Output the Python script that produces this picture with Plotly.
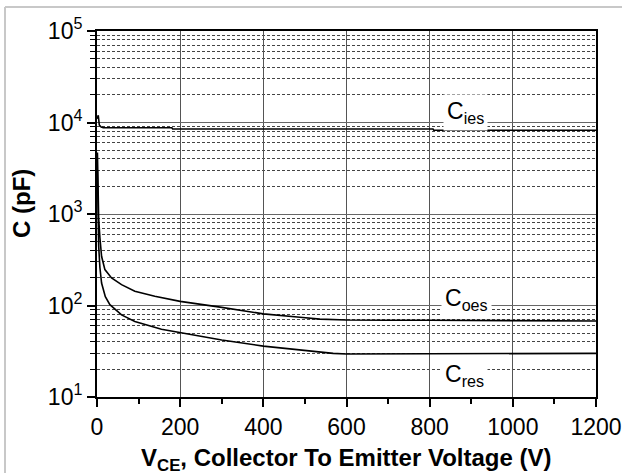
import plotly.graph_objects as go
import math

# ---- data ----
cies_v = [0.5, 3, 5.5, 10, 15, 30, 60, 100, 180, 182, 400, 600, 808, 810, 1000, 1200]
cies_c = [11000, 12000, 9400, 8900, 8800, 8780, 8770, 8770, 8770, 8500, 8500, 8500, 8500, 8230, 8230, 8230]

coes_v = [1, 2, 4, 7, 11, 19, 35, 59, 91, 139, 200, 296, 400, 488, 536, 600, 640, 700, 800, 960, 1000, 1100, 1200]
coes_c = [4700, 1800, 900, 550, 345, 247, 200, 169, 143, 126, 111, 96, 81, 74.5, 71, 69.5, 69, 69, 69, 68.5, 67.7, 67.7, 67.7]

cres_v = [1, 2, 4, 7, 11, 20, 31, 59, 91, 155, 200, 300, 400, 488, 568, 600, 700, 800, 900, 1000, 1100, 1200]
cres_c = [3000, 1000, 450, 260, 176, 125, 102, 79, 67, 55, 50.5, 42, 36, 32.7, 30, 29.5, 29.5, 29.5, 29.5, 29.5, 29.5, 30]

x_ticks = [0, 200, 400, 600, 800, 1000, 1200]
y_exps = [1, 2, 3, 4, 5]
y_tickvals = [10 ** e for e in y_exps]
y_ticktext = ["10<sup>%d</sup>" % e for e in y_exps]
y_minor = [m * 10 ** e for e in range(1, 5) for m in range(2, 10)]

labels = ["C<sub>ies</sub>", "C<sub>oes</sub>", "C<sub>res</sub>"]
label_v = [885, 888, 883]
label_c = [13000, 115, 17]

FONT = "Arial, Liberation Sans, sans-serif"
W, H = 623, 474
L, R, T, B = 97, 27, 31, 77
PW, PH = W - L - R, H - T - B


def px(xp):
    return (xp - L) / PW


def py(yp):
    return (H - B - yp) / PH


fig = go.Figure()
for v, c in [(cies_v, cies_c), (coes_v, coes_c), (cres_v, cres_c)]:
    fig.add_trace(go.Scatter(x=v, y=c, mode="lines",
                             line=dict(color="black", width=1.6),
                             showlegend=False, hoverinfo="skip"))

for t, v, c in zip(labels, label_v, label_c):
    fig.add_annotation(x=v, y=math.log10(c), xref="x", yref="y", text=t,
                       showarrow=False, bgcolor="white", borderpad=3,
                       xanchor="center", yanchor="middle",
                       font=dict(family=FONT, size=23, color="black"))

fig.add_annotation(x=px(21), y=py(204), xref="paper", yref="paper",
                   text="<b>C (pF)</b>", textangle=-90, showarrow=False,
                   xanchor="center", yanchor="middle",
                   font=dict(family=FONT, size=24, color="black"))
fig.add_annotation(x=px(346), y=py(459), xref="paper", yref="paper",
                   text="<b>V<sub>CE</sub>, Collector To Emitter Voltage (V)</b>",
                   showarrow=False, xanchor="center", yanchor="middle",
                   font=dict(family=FONT, size=24, color="black"))

# light page border (left and top)
fig.add_shape(type="line", xref="paper", yref="paper",
              x0=px(5), x1=px(5), y0=py(7), y1=py(H - 1),
              line=dict(color="#c8c8c8", width=2))
fig.add_shape(type="line", xref="paper", yref="paper",
              x0=px(5), x1=px(W - 1), y0=py(7), y1=py(7),
              line=dict(color="#c8c8c8", width=2))

fig.update_xaxes(range=[0, 1200], tickvals=x_ticks, ticks="outside", ticklen=8,
                 tickwidth=1.5, tickcolor="black", showgrid=True,
                 gridcolor="#555555", gridwidth=1, showline=True,
                 linecolor="black", linewidth=2, mirror=True, zeroline=False,
                 automargin=False,
                 tickfont=dict(family=FONT, size=23, color="black"),
                 minor=dict(dtick=100, tick0=0, ticks="outside", ticklen=5,
                            tickwidth=1.5, tickcolor="black", showgrid=False))
fig.update_yaxes(type="log", range=[1, 5], tickvals=y_tickvals,
                 ticktext=y_ticktext, ticks="outside", ticklen=8, tickwidth=1.5,
                 tickcolor="black", showgrid=True, gridcolor="#666666",
                 gridwidth=1, showline=True, linecolor="black", linewidth=2,
                 mirror=True, zeroline=False, automargin=False,
                 tickfont=dict(family=FONT, size=23, color="black"),
                 minor=dict(tickvals=y_minor, ticks="outside", ticklen=5,
                            tickwidth=1, tickcolor="black", showgrid=True,
                            gridcolor="#444444", gridwidth=1,
                            griddash="3px,2px"))

fig.update_layout(width=W, height=H, margin=dict(l=L, r=R, t=T, b=B),
                  paper_bgcolor="white", plot_bgcolor="white",
                  font=dict(family=FONT, color="black"))

fig.write_html("out.html", config={"displayModeBar": False})
